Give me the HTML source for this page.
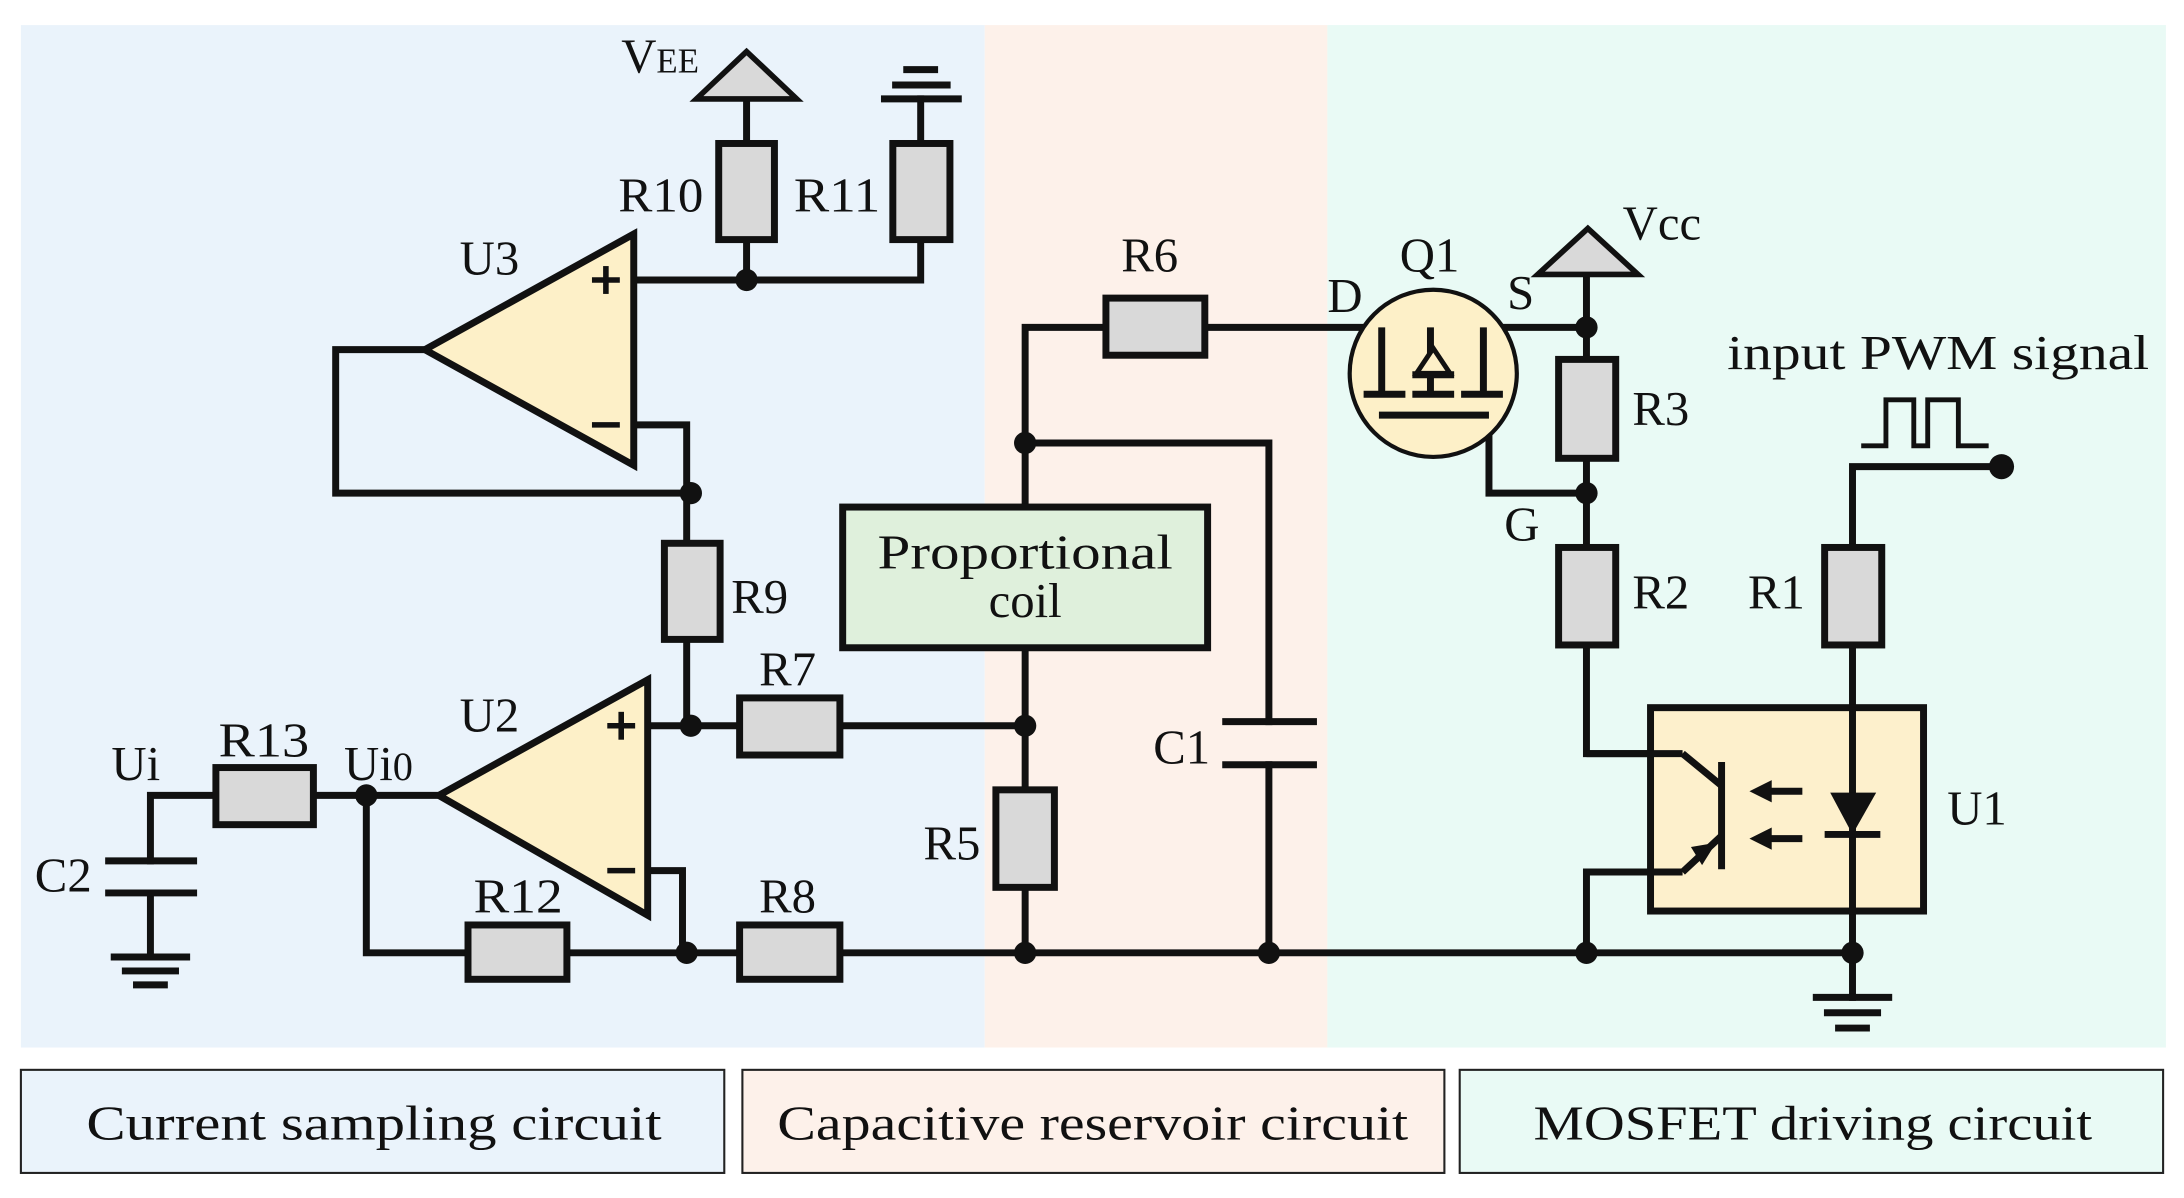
<!DOCTYPE html>
<html><head><meta charset="utf-8"><style>
html,body{margin:0;padding:0;background:#fff;}
svg{display:block;}
text{font-family:"Liberation Serif",serif;font-size:35px;fill:#111;}
</style></head><body>
<svg width="2184" height="1198" viewBox="0 0 1568 860" preserveAspectRatio="none" xmlns="http://www.w3.org/2000/svg">
<rect x="15" y="18" width="692" height="734" fill="#eaf3fb"/>
<rect x="707" y="18" width="246" height="734" fill="#fdf1ea"/>
<rect x="953" y="18" width="602" height="734" fill="#e9faf5"/>
<g stroke="#222" stroke-width="1.5">
<rect x="15" y="768" width="505" height="74" fill="#eaf3fb"/>
<rect x="533" y="768" width="504" height="74" fill="#fdf1ea"/>
<rect x="1048" y="768" width="505" height="74" fill="#e9faf5"/>
</g>
<text x="62" y="818" font-size="38" textLength="413" lengthAdjust="spacingAndGlyphs">Current sampling circuit</text>
<text x="558" y="818" font-size="38" textLength="453" lengthAdjust="spacingAndGlyphs">Capacitive reservoir circuit</text>
<text x="1101" y="818" font-size="38" textLength="401" lengthAdjust="spacingAndGlyphs">MOSFET driving circuit</text>

<g stroke="#111" stroke-width="5" fill="none" stroke-linecap="square">
<polyline points="536,71 536,103"/><polyline points="536,172 536,201"/>
<polyline points="661,71 661,103"/><polyline points="661,172 661,201 455,201"/>
<polyline points="305,251 241,251 241,354 496,354"/>
<polyline points="455,305 493,305 493,390"/>
<polyline points="493,459 493,521 465,521"/>
<polyline points="493,521 531,521"/><polyline points="603,521 736,521"/>
<polyline points="465,625 490,625 490,684"/>
<polyline points="263,571 263,684 336,684"/><polyline points="407,684 531,684"/>
<polyline points="603,684 1330,684"/>
<polyline points="315,571 225,571"/><polyline points="155,571 108,571 108,618"/>
<polyline points="108,641 108,687"/>
<polyline points="736,364 736,235 794,235"/><polyline points="736,465 736,567"/><polyline points="736,637 736,684"/>
<polyline points="736,318 911,318 911,518"/><polyline points="911,549 911,684"/>
<polyline points="865,235 992,235 992,283"/>
<polyline points="1139,197 1139,258"/><polyline points="1139,329 1139,393"/>
<polyline points="1139,235 1027,235 1027,250"/>
<polyline points="1065,235 1065,283"/>
<polyline points="1069,298 1069,354 1139,354"/>
<polyline points="1139,463 1139,541 1208,541 1236,564"/>
<polyline points="1236,600 1208,626 1139,626 1139,684"/>
<polyline points="1236,547 1236,624"/>
<polyline points="1437,335 1330,335 1330,393"/><polyline points="1330,463 1330,716"/>
<polyline stroke-width="3.5" points="1338,320 1354,320 1354,287 1374,287 1374,320 1384,320 1384,287 1406,287 1406,320 1426,320"/>
<line x1="635" y1="71" x2="688" y2="71"/><line x1="643" y1="61" x2="680" y2="61"/><line x1="651" y1="50" x2="671" y2="50"/>
<line x1="82" y1="687" x2="134" y2="687"/><line x1="90" y1="697" x2="126" y2="697"/><line x1="98" y1="707" x2="118" y2="707"/>
<line x1="1304" y1="716" x2="1356" y2="716"/><line x1="1312" y1="727" x2="1348" y2="727"/><line x1="1320" y1="738" x2="1340" y2="738"/>
<line x1="78" y1="618" x2="139" y2="618"/><line x1="78" y1="641" x2="139" y2="641"/>
<line x1="880" y1="518" x2="943" y2="518"/><line x1="880" y1="549" x2="943" y2="549"/>
</g>

<polygon points="536,37 500,71 572,71" fill="#d9d9d9" stroke="#111" stroke-width="4"/>
<polygon points="1140,164 1104,197 1176,197" fill="#d9d9d9" stroke="#111" stroke-width="4"/>

<g fill="#d9d9d9" stroke="#111" stroke-width="5">
<rect x="516" y="103" width="40" height="69"/>
<rect x="641" y="103" width="41" height="69"/>
<rect x="477" y="390" width="40" height="69"/>
<rect x="531" y="501" width="72" height="41"/>
<rect x="336" y="664" width="71" height="39"/>
<rect x="531" y="664" width="72" height="39"/>
<rect x="155" y="551" width="70" height="41"/>
<rect x="715" y="567" width="42" height="70"/>
<rect x="794" y="214" width="71" height="41"/>
<rect x="1119" y="258" width="41" height="71"/>
<rect x="1119" y="393" width="41" height="70"/>
<rect x="1310" y="393" width="41" height="70"/>
</g>

<polygon points="305,251 455,168 455,334" fill="#fdf0c8" stroke="#111" stroke-width="5"/>
<polygon points="315,571 465,488 465,657" fill="#fdf0c8" stroke="#111" stroke-width="5"/>
<g stroke="#111" stroke-width="4">
<line x1="425" y1="201" x2="445" y2="201"/><line x1="435" y1="191" x2="435" y2="211"/>
<line x1="425" y1="305" x2="445" y2="305"/>
<line x1="436" y1="521" x2="456" y2="521"/><line x1="446" y1="511" x2="446" y2="531"/>
<line x1="436" y1="625" x2="456" y2="625"/>
</g>

<rect x="605" y="364" width="262" height="101" fill="#dff0dc" stroke="#111" stroke-width="5"/>
<text x="630" y="408" font-size="38" textLength="212" lengthAdjust="spacingAndGlyphs">Proportional</text>
<text x="736" y="443" text-anchor="middle" font-size="38">coil</text>

<circle cx="1029" cy="268" r="60" fill="#fdf0c8" stroke="#111" stroke-width="3"/>
<g stroke="#111" stroke-width="5" fill="none">
<line x1="992" y1="235" x2="992" y2="283"/><line x1="1065" y1="235" x2="1065" y2="283"/>
<line x1="979" y1="283" x2="1009" y2="283"/><line x1="1014" y1="283" x2="1044" y2="283"/><line x1="1049" y1="283" x2="1079" y2="283"/>
<line x1="990" y1="298" x2="1069" y2="298"/>
<line x1="1027" y1="235" x2="1027" y2="283"/>
<line x1="1014" y1="269" x2="1044" y2="269"/>
</g>
<polygon points="1029,250 1017,268 1041,268" fill="#fdf0c8" stroke="#111" stroke-width="3.5"/>

<rect x="1185" y="508" width="196" height="146" fill="#fdf0cc" stroke="#111" stroke-width="5"/>
<g stroke="#111" stroke-width="5">
<line x1="1139" y1="541" x2="1208" y2="541"/><line x1="1208" y1="541" x2="1236" y2="564"/>
<line x1="1236" y1="600" x2="1208" y2="626"/><line x1="1208" y1="626" x2="1139" y2="626"/>
<line x1="1236" y1="547" x2="1236" y2="624"/>
<line x1="1330" y1="508" x2="1330" y2="654"/>
<line x1="1310" y1="599" x2="1350" y2="599"/>
<line x1="1294" y1="568" x2="1268" y2="568"/><line x1="1294" y1="602" x2="1268" y2="602"/>
</g>
<polygon points="1314,569 1347,569 1330,599" fill="#111"/>
<polygon points="1256,568 1272,560 1272,576" fill="#111"/>
<polygon points="1256,602 1272,594 1272,610" fill="#111"/>
<polygon points="1222,621 1232,605 1214,608" fill="#111"/>

<g fill="#111">
<circle cx="536" cy="201" r="8"/><circle cx="496" cy="354" r="8"/><circle cx="496" cy="521" r="8"/>
<circle cx="263" cy="571" r="8"/><circle cx="493" cy="684" r="8"/><circle cx="736" cy="684" r="8"/>
<circle cx="736" cy="521" r="8"/><circle cx="736" cy="318" r="8"/><circle cx="911" cy="684" r="8"/>
<circle cx="1139" cy="684" r="8"/><circle cx="1330" cy="684" r="8"/><circle cx="1139" cy="235" r="8"/>
<circle cx="1139" cy="354" r="8"/><circle cx="1437" cy="335" r="9"/>
</g>

<text x="446" y="52">V<tspan font-size="25">EE</tspan></text>
<text x="444" y="152" textLength="61" lengthAdjust="spacingAndGlyphs">R10</text>
<text x="570" y="152" textLength="62" lengthAdjust="spacingAndGlyphs">R11</text>
<text x="330" y="197">U3</text>
<text x="525" y="440">R9</text>
<text x="545" y="492">R7</text>
<text x="330" y="525">U2</text>
<text x="80" y="560">Ui</text>
<text x="157" y="543" textLength="65" lengthAdjust="spacingAndGlyphs">R13</text>
<text x="247" y="560">Ui<tspan font-size="29">0</tspan></text>
<text x="25" y="640">C2</text>
<text x="340" y="655" textLength="64" lengthAdjust="spacingAndGlyphs">R12</text>
<text x="545" y="655">R8</text>
<text x="663" y="617">R5</text>
<text x="828" y="548">C1</text>
<text x="805" y="195">R6</text>
<text x="953" y="224" font-size="31">D</text>
<text x="1005" y="195">Q1</text>
<text x="1082" y="222" font-size="31">S</text>
<text x="1080" y="388" font-size="31">G</text>
<text x="1165" y="172">Vcc</text>
<text x="1172" y="305">R3</text>
<text x="1172" y="437">R2</text>
<text x="1255" y="437">R1</text>
<text x="1398" y="592">U1</text>
<text x="1240" y="265" font-size="36" textLength="303" lengthAdjust="spacingAndGlyphs">input PWM signal</text>
</svg>
</body></html>
